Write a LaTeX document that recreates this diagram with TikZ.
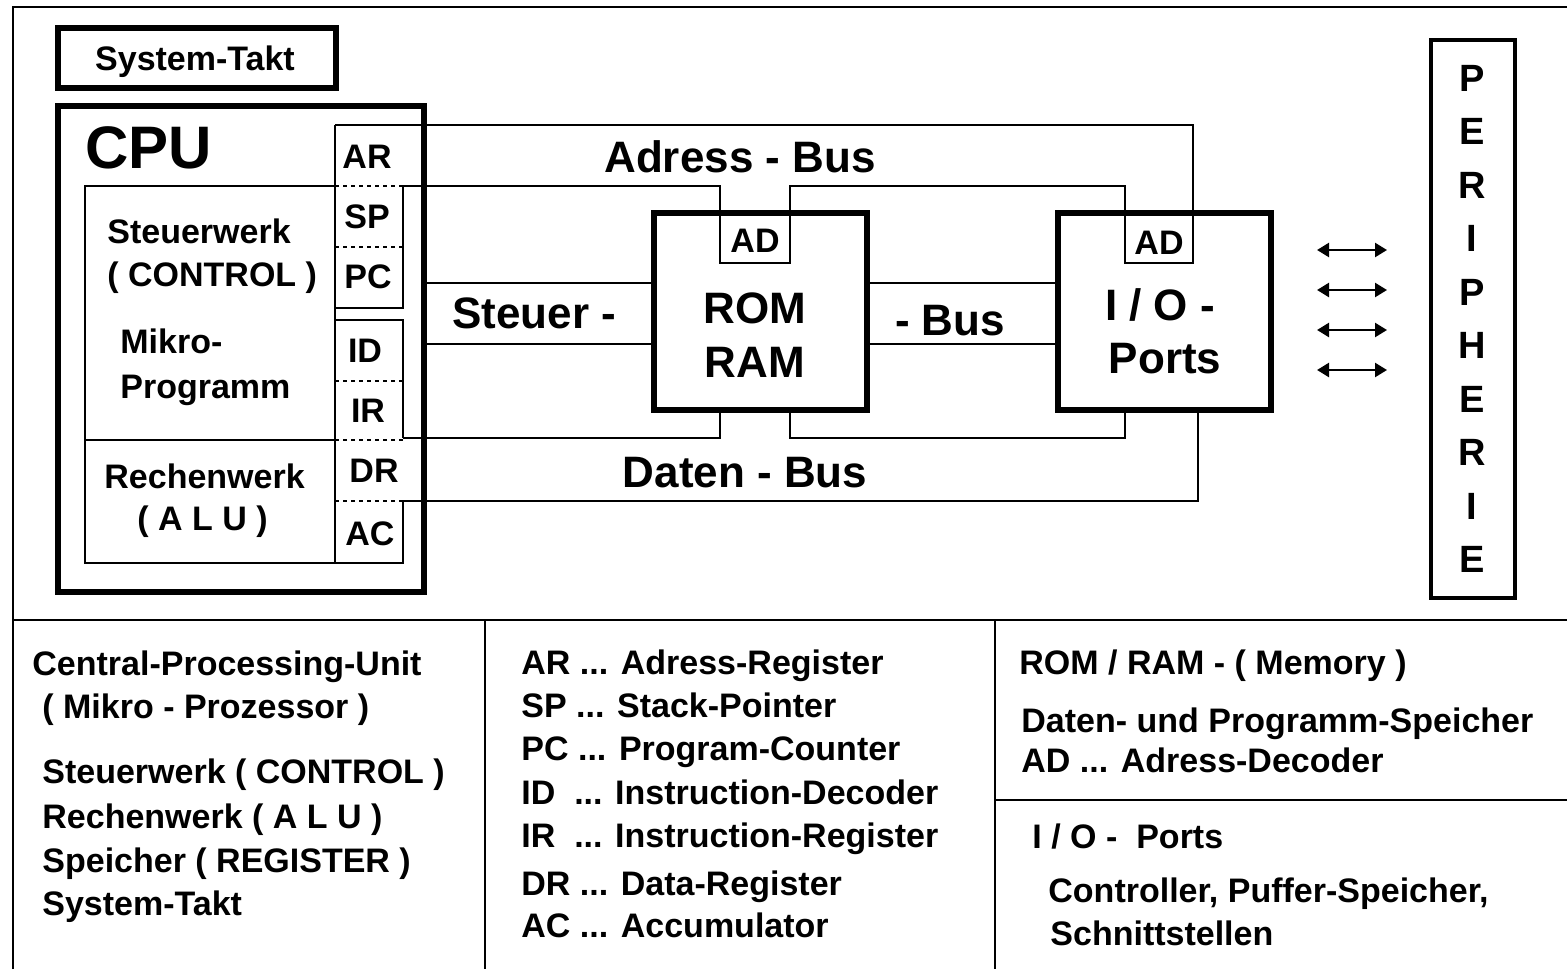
\documentclass[tikz,border=0pt]{standalone}
\usepackage{fontspec}
\setmainfont{Liberation Sans}
\usetikzlibrary{positioning,arrows.meta,fit}
\newcommand{\fnorm}{\fontsize{17}{20}\selectfont\bfseries}
\newcommand{\fbus}{\fontsize{22}{26}\selectfont\bfseries}
\newcommand{\fcpu}{\fontsize{30}{34}\selectfont\bfseries}
\newcommand{\fperi}{\fontsize{19}{22}\selectfont\bfseries}
\tikzset{
  frame/.style={line width=1pt},
  wire/.style={line width=1pt},
  heavy/.style={draw, line width=3.2pt, inner sep=0pt, outer sep=0pt},
  box/.style={draw, line width=1pt, inner sep=0pt, outer sep=0pt},
  regsep/.style={line width=1pt, dash pattern=on 2pt off 2pt},
  lab/.style={font=\fnorm, inner sep=0pt, anchor=base west},
  reg/.style={font=\fnorm, inner sep=0pt, anchor=base},
  buslab/.style={font=\fbus, inner sep=0pt, anchor=base},
  perilet/.style={font=\fperi, inner sep=0pt},
  link/.style={{Triangle[length=6pt,width=7pt]}-{Triangle[length=6pt,width=7pt]}, line width=1.2pt},
}

\begin{document}
\begin{tikzpicture}[x=0.5pt, y=-0.5pt]
\useasboundingbox (0,0) rectangle (1567,969);

%% ── frame and table lines ───────────────────────────────────────────────
\draw[frame] (13,969) -- (13,7) -- (1567,7);
\draw[frame, line width=1.4pt] (13,620) -- (1567,620);
\draw[frame] (485,620) -- (485,969);
\draw[frame] (995,620) -- (995,969);
\draw[frame] (995,800) -- (1567,800);

%% ── system clock and CPU ────────────────────────────────────────────────
\node[heavy, fit={(58,28) (336,88)}] (takt) {};
\node[reg] (takttxt) at (195,70) {System-Takt};

\node[heavy, line width=3pt, fit={(58,106) (424,592)}] (cpu) {};
\node[lab, font=\fcpu] (cputxt) at (85,168) {CPU};

\node[box, fit={(85,186) (335,563)}] (ctrl) {};
\draw[wire] (85,440) -- (335,440);
\node[lab] (steuer) at (107,243) {Steuerwerk};
\node[lab] (control) at (107,286) {( CONTROL )};
\node[lab] (mikro) at (120,353) {Mikro-};
\node[lab] (progr) at (120,398) {Programm};
\node[lab] (rechen) at (104,488) {Rechenwerk};
\node[lab] (alu) at (137,530) {( A L U )};

%% register column
\coordinate (rtop) at (335,125);
\coordinate (spr) at (403,186);
\coordinate (irr) at (403,438);
\coordinate (acr) at (403,501);
\draw[wire] (rtop) -- (335,563) -- (403,563) -- (acr);
\draw[wire] (spr) -- (403,308) -- (335,308);
\draw[wire] (335,320) -- (403,320) -- (irr);
\foreach \y in {186,247,381,440,501}
  \draw[regsep] (335,\y) -- (403,\y);
\node[reg] (ar) at (367,168) {AR};
\node[reg] (sp) at (367,228) {SP};
\node[reg] (pc) at (368,288) {PC};
\node[reg] (id) at (365,362) {ID};
\node[reg] (ir) at (368,422) {IR};
\node[reg] (dr) at (374,482) {DR};
\node[reg] (ac) at (370,545) {AC};

%% ── memory and ports ────────────────────────────────────────────────────
\node[heavy, fit={(654,213) (867,410)}] (mem) {};
\node[box, fit={(720,213) (790,263)}] (admem) {};
\node[reg] at (755,252) {AD};
\node[buslab] (rom) at (755,323) {ROM};
\node[buslab] (ram) at (755,377) {RAM};

\node[heavy, fit={(1058,213) (1271,410)}] (io) {};
\node[box, fit={(1125,213) (1193,263)}] (adio) {};
\node[reg] at (1159,254) {AD};
\node[buslab] (iotxt) at (1160,320) {I / O -};
\node[buslab] (ports) at (1165,373) {Ports};

%% ── buses ───────────────────────────────────────────────────────────────
\draw[wire] (rtop) -| (adio.north east);
\draw[wire] (spr) -| (admem.north west);
\draw[wire] (admem.north east) |- (adio.north west |- spr) -- (adio.north west);
\node[buslab] (adrbus) at (740,172) {Adress - Bus};

\coordinate (sb1) at (0,283);
\coordinate (sb2) at (0,344);
\draw[wire] (cpu.east |- sb1) -- (mem.west |- sb1);
\draw[wire] (cpu.east |- sb2) -- (mem.west |- sb2);
\draw[wire] (mem.east |- sb1) -- (io.west |- sb1);
\draw[wire] (mem.east |- sb2) -- (io.west |- sb2);
\node[lab, font=\fbus] (stbus) at (452,328) {Steuer -};
\node[buslab] (stbus2) at (950,335) {- Bus};

\draw[wire] (irr) -| (admem.west |- mem.south);
\draw[wire] (admem.east |- mem.south) |- (adio.west |- irr) -- (adio.west |- io.south);
\draw[wire] (acr) -| ([xshift=2.5pt]adio.east |- io.south);
\node[buslab] (datbus) at (745,487) {Daten - Bus};

%% ── periphery ───────────────────────────────────────────────────────────
\node[heavy, line width=2.2pt, fit={(1431,40) (1515,598)}] (peri) {};
\foreach \c [count=\i] in {P,E,R,I,P,H,E,R,I,E}
  \node[perilet] (p\i) at (1472,{78+53.5*(\i-1)}) {\c};
\foreach \y in {250,290,330,370}
  \draw[link] (1317,\y) -- (1387,\y);

%% ── legend ──────────────────────────────────────────────────────────────
\node[lab] (l1) at (32,675) {Central-Processing-Unit};
\node[lab] (l2) at (42,718) {( Mikro - Prozessor )};
\node[lab] (l3) at (42,783) {Steuerwerk ( CONTROL )};
\node[lab] (l4) at (42,828) {Rechenwerk ( A L U )};
\node[lab] (l5) at (42,872) {Speicher ( REGISTER )};
\node[lab] (l6) at (42,915) {System-Takt};

\node[lab] (m1) at (521,674) {AR ... Adress-Register};
\node[lab] (m2) at (521,717) {SP ... Stack-Pointer};
\node[lab] (m3) at (521,760) {PC ... Program-Counter};
\node[lab] (m4) at (521,804) {ID\ \ ... Instruction-Decoder};
\node[lab] (m5) at (521,847) {IR\ \ ... Instruction-Register};
\node[lab] (m6) at (521,895) {DR ... Data-Register};
\node[lab] (m7) at (521,937) {AC ... Accumulator};

\node[lab] (r1) at (1019,674) {ROM / RAM - ( Memory )};
\node[lab] (r2) at (1021,732) {Daten- und Programm-Speicher};
\node[lab] (r3) at (1021,772) {AD ... Adress-Decoder};
\node[lab] (r4) at (1032,848) {I / O -\ \ Ports};
\node[lab] (r5) at (1048,902) {Controller, Puffer-Speicher,};
\node[lab] (r6) at (1050,945) {Schnittstellen};

\end{tikzpicture}
\end{document}
